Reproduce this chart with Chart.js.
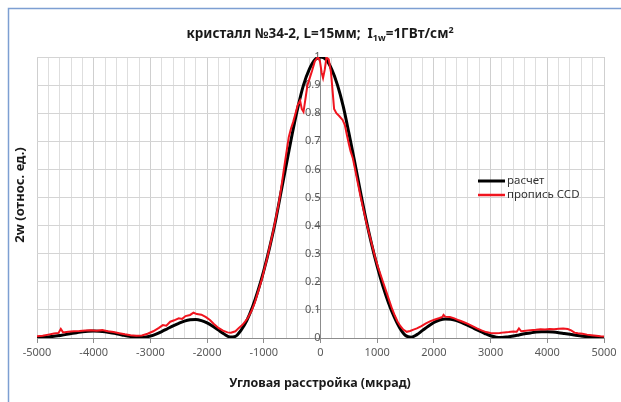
<!DOCTYPE html>
<html>
<head>
<meta charset="utf-8">
<script src="https://cdn.jsdelivr.net/npm/chart.js@4/dist/chart.umd.min.js"></script>
<style>
    html, body { margin: 0; padding: 0; background: #fff; }
    #wrap { position: relative; width: 621px; height: 402px; }
</style>
</head>
<body>
<div id="wrap"><canvas id="chart" width="621" height="402"></canvas></div>
<script>
const FONT = "'Noto Sans', 'DejaVu Sans', sans-serif";

// x tick labels (every 1000, minor grid every 200) and y ticks
const xMajorTicks = [-5000, -4000, -3000, -2000, -1000, 0, 1000, 2000, 3000, 4000, 5000];
const legendLabels = ['расчет', 'пропись CCD'];

// "расчет" — calculated curve, step 100 mrad
const calcX = [
    -5000, -4900, -4800, -4700, -4600, -4500, -4400, -4300, -4200, -4100,
    -4000, -3900, -3800, -3700, -3600, -3500, -3400, -3300, -3200, -3100,
    -3000, -2900, -2800, -2700, -2600, -2500, -2400, -2300, -2200, -2100,
    -2000, -1900, -1800, -1700, -1600, -1500, -1400, -1300, -1200, -1100,
    -1000, -900, -800, -700, -600, -500, -400, -300, -200, -100,
    0,
    100, 200, 300, 400, 500, 600, 700, 800, 900,
    1000, 1100, 1200, 1300, 1400, 1500, 1600, 1700, 1800, 1900,
    2000, 2100, 2200, 2300, 2400, 2500, 2600, 2700, 2800, 2900,
    3000, 3100, 3200, 3300, 3400, 3500, 3600, 3700, 3800, 3900,
    4000, 4100, 4200, 4300, 4400, 4500, 4600, 4700, 4800, 4900, 5000
];
const calcY = [
    0.002, 0.003, 0.004, 0.006, 0.009, 0.012, 0.016, 0.019, 0.022, 0.024,
    0.025, 0.024, 0.022, 0.019, 0.015, 0.011, 0.007, 0.004, 0.002, 0.003,
    0.007, 0.014, 0.023, 0.033, 0.043, 0.052, 0.060, 0.065, 0.066, 0.062,
    0.054, 0.042, 0.028, 0.014, 0.004, 0.006, 0.028, 0.062, 0.110, 0.170,
    0.240, 0.320, 0.410, 0.515, 0.620, 0.725, 0.820, 0.900, 0.955, 0.990,
    1.000,
    0.990, 0.955, 0.900, 0.825, 0.730, 0.630, 0.525, 0.425, 0.335,
    0.255, 0.185, 0.125, 0.075, 0.035, 0.009, 0.003, 0.012, 0.027, 0.042,
    0.055, 0.064, 0.068, 0.067, 0.062, 0.054, 0.045, 0.035, 0.025, 0.016,
    0.008, 0.003, 0.002, 0.004, 0.007, 0.011, 0.015, 0.018, 0.021, 0.022,
    0.022, 0.021, 0.019, 0.016, 0.013, 0.010, 0.007, 0.005, 0.003, 0.002, 0.002
];

// "пропись CCD" — measured profile
const ccdX = [
    -5000, -4900, -4800, -4700, -4620, -4580, -4540, -4450, -4350, -4250,
    -4150, -4050, -3950, -3850, -3750, -3650, -3550, -3450, -3350, -3250,
    -3150, -3050, -2950, -2850, -2780, -2720, -2650, -2580, -2500, -2440,
    -2380, -2300, -2240, -2180, -2100, -2020, -1950, -1880, -1800, -1720,
    -1640, -1580, -1500, -1440, -1380, -1330, -1280, -1220, -1160, -1100,
    -1040, -990, -940, -890, -840, -790, -740, -700, -660, -620,
    -590, -560, -520, -480, -440, -400, -360, -330, -300, -270,
    -230, -190, -150, -100, -45, -10, 20, 45, 75, 105,
    145, 185, 215, 240, 280, 330, 390, 430, 460, 500,
    530, 570, 610, 660, 710, 760, 810, 860, 910, 960,
    1010, 1060, 1110, 1160, 1210, 1260, 1310, 1360, 1410, 1460,
    1520, 1580, 1640, 1700, 1780, 1860, 1940, 2020, 2100, 2150,
    2170, 2200, 2280, 2360, 2440, 2520, 2600, 2680, 2760, 2840,
    2920, 3000, 3080, 3160, 3240, 3320, 3400, 3460, 3500, 3540,
    3620, 3700, 3800, 3880, 3960, 4040, 4120, 4200, 4280, 4360,
    4420, 4480, 4540, 4620, 4700, 4780, 4860, 4940, 5000
];
const ccdY = [
    0.006, 0.008, 0.012, 0.016, 0.018, 0.032, 0.020, 0.022, 0.024, 0.025,
    0.027, 0.028, 0.026, 0.028, 0.024, 0.021, 0.017, 0.013, 0.010, 0.008,
    0.009, 0.015, 0.024, 0.036, 0.046, 0.044, 0.058, 0.063, 0.070, 0.068,
    0.078, 0.082, 0.090, 0.085, 0.083, 0.074, 0.064, 0.050, 0.036, 0.026,
    0.020, 0.019, 0.024, 0.036, 0.046, 0.058, 0.072, 0.095, 0.125, 0.165,
    0.205, 0.245, 0.285, 0.330, 0.375, 0.425, 0.475, 0.525, 0.580, 0.635,
    0.675, 0.715, 0.745, 0.770, 0.800, 0.830, 0.845, 0.815, 0.805, 0.845,
    0.900, 0.925, 0.950, 0.985, 1.000, 0.985, 0.945, 0.925, 0.955, 0.998,
    0.992, 0.945, 0.875, 0.815, 0.800, 0.790, 0.776, 0.758, 0.728, 0.690,
    0.665, 0.640, 0.600, 0.550, 0.500, 0.455, 0.410, 0.370, 0.330, 0.290,
    0.255, 0.225, 0.195, 0.165, 0.135, 0.105, 0.080, 0.058, 0.042, 0.030,
    0.022, 0.025, 0.030, 0.034, 0.042, 0.052, 0.060, 0.066, 0.071, 0.075,
    0.082, 0.076, 0.075, 0.070, 0.063, 0.057, 0.050, 0.042, 0.034, 0.027,
    0.021, 0.018, 0.017, 0.018, 0.020, 0.021, 0.023, 0.022, 0.034, 0.024,
    0.026, 0.028, 0.029, 0.031, 0.030, 0.032, 0.031, 0.033, 0.034, 0.032,
    0.027, 0.019, 0.017, 0.015, 0.012, 0.010, 0.008, 0.006, 0.005
];

const calcColor = '#000000';
const ccdColor = '#f0141e';

const toPoints = (xs, ys) => xs.map((x, i) => ({ x: x, y: ys[i] }));

// title, axis titles, legend and the outer frame are drawn by hand
const decorPlugin = {
    id: 'decor',
    afterDraw(chart) {
        const c = chart.ctx;
        c.save();

        // outer frame (top and left edges are visible)
        c.strokeStyle = '#7d9fd2';
        c.lineWidth = 1.5;
        c.beginPath();
        c.moveTo(8.5, 402);
        c.lineTo(8.5, 8.5);
        c.lineTo(621, 8.5);
        c.stroke();

        // title with subscript and superscript
        const parts = [
            { t: 'кристалл №34-2, L=15мм;  I', size: 13.5, dy: 0 },
            { t: '1w', size: 9, dy: 3 },
            { t: '=1ГВт/см', size: 13.5, dy: 0 },
            { t: '2', size: 9, dy: -5 }
        ];
        let total = 0;
        parts.forEach(p => {
            c.font = `bold ${p.size}px ${FONT}`;
            p.w = c.measureText(p.t).width;
            total += p.w;
        });
        let tx = 320 - total / 2;
        c.fillStyle = '#1a1a1a';
        c.textBaseline = 'alphabetic';
        c.textAlign = 'left';
        parts.forEach(p => {
            c.font = `bold ${p.size}px ${FONT}`;
            c.fillText(p.t, tx, 38 + p.dy);
            tx += p.w;
        });

        // axis titles
        c.font = `bold 12.5px ${FONT}`;
        c.textAlign = 'center';
        c.textBaseline = 'middle';
        c.fillText('Угловая расстройка (мкрад)', 320, 383);

        c.save();
        c.translate(20, 195);
        c.rotate(-Math.PI / 2);
        c.font = `bold 13px ${FONT}`;
        c.fillText('2w (отнoс. ед.)', 0, 0);
        c.restore();

        // legend
        const items = [
            { label: legendLabels[0], color: calcColor, width: 3, y: 181 },
            { label: legendLabels[1], color: ccdColor, width: 2.5, y: 195 }
        ];
        c.font = `11.5px ${FONT}`;
        c.textAlign = 'left';
        items.forEach(it => {
            c.strokeStyle = it.color;
            c.lineWidth = it.width;
            c.beginPath();
            c.moveTo(478, it.y);
            c.lineTo(505, it.y);
            c.stroke();
            c.fillStyle = '#333333';
            c.fillText(it.label, 507, it.y);
        });

        c.restore();
    }
};

new Chart(document.getElementById('chart').getContext('2d'), {
    type: 'scatter',
    data: {
        datasets: [
            {
                label: legendLabels[0],
                data: toPoints(calcX, calcY),
                showLine: true,
                borderColor: calcColor,
                borderWidth: 3,
                pointRadius: 0,
                cubicInterpolationMode: 'monotone',
                order: 2
            },
            {
                label: legendLabels[1],
                data: toPoints(ccdX, ccdY),
                showLine: true,
                borderColor: ccdColor,
                borderWidth: 2,
                pointRadius: 0,
                tension: 0,
                order: 1
            }
        ]
    },
    options: {
        responsive: false,
        animation: false,
        layout: { padding: { left: 37, right: 17, top: 57, bottom: 0 } },
        plugins: {
            legend: { display: false },
            tooltip: { enabled: false },
            title: { display: false }
        },
        scales: {
            x: {
                type: 'linear',
                min: -5000,
                max: 5000,
                afterFit: scale => { scale.height = 64; },
                border: { color: '#8c8c8c', width: 1 },
                grid: {
                    color: ctx => xMajorTicks.includes(Math.round(ctx.tick.value)) ? '#cfcfcf' : '#dedede',
                    tickColor: ctx => xMajorTicks.includes(Math.round(ctx.tick.value)) ? '#8c8c8c' : 'rgba(0,0,0,0)',
                    tickLength: 5
                },
                ticks: {
                    stepSize: 200,
                    autoSkip: false,
                    maxRotation: 0,
                    padding: 3,
                    color: '#595959',
                    font: { family: FONT, size: 11 },
                    callback: v => xMajorTicks.includes(Math.round(v)) ? String(Math.round(v)) : ''
                }
            },
            y: {
                type: 'linear',
                position: { x: 0 },
                min: 0,
                max: 1,
                border: { color: '#8c8c8c', width: 1 },
                grid: {
                    color: '#d4d4d4',
                    tickColor: '#8c8c8c',
                    tickLength: 4
                },
                ticks: {
                    stepSize: 0.1,
                    padding: 5,
                    color: '#595959',
                    font: { family: FONT, size: 11 },
                    callback: v => String(Number(v.toFixed(1)))
                }
            }
        }
    },
    plugins: [decorPlugin]
});
</script>
</body>
</html>
